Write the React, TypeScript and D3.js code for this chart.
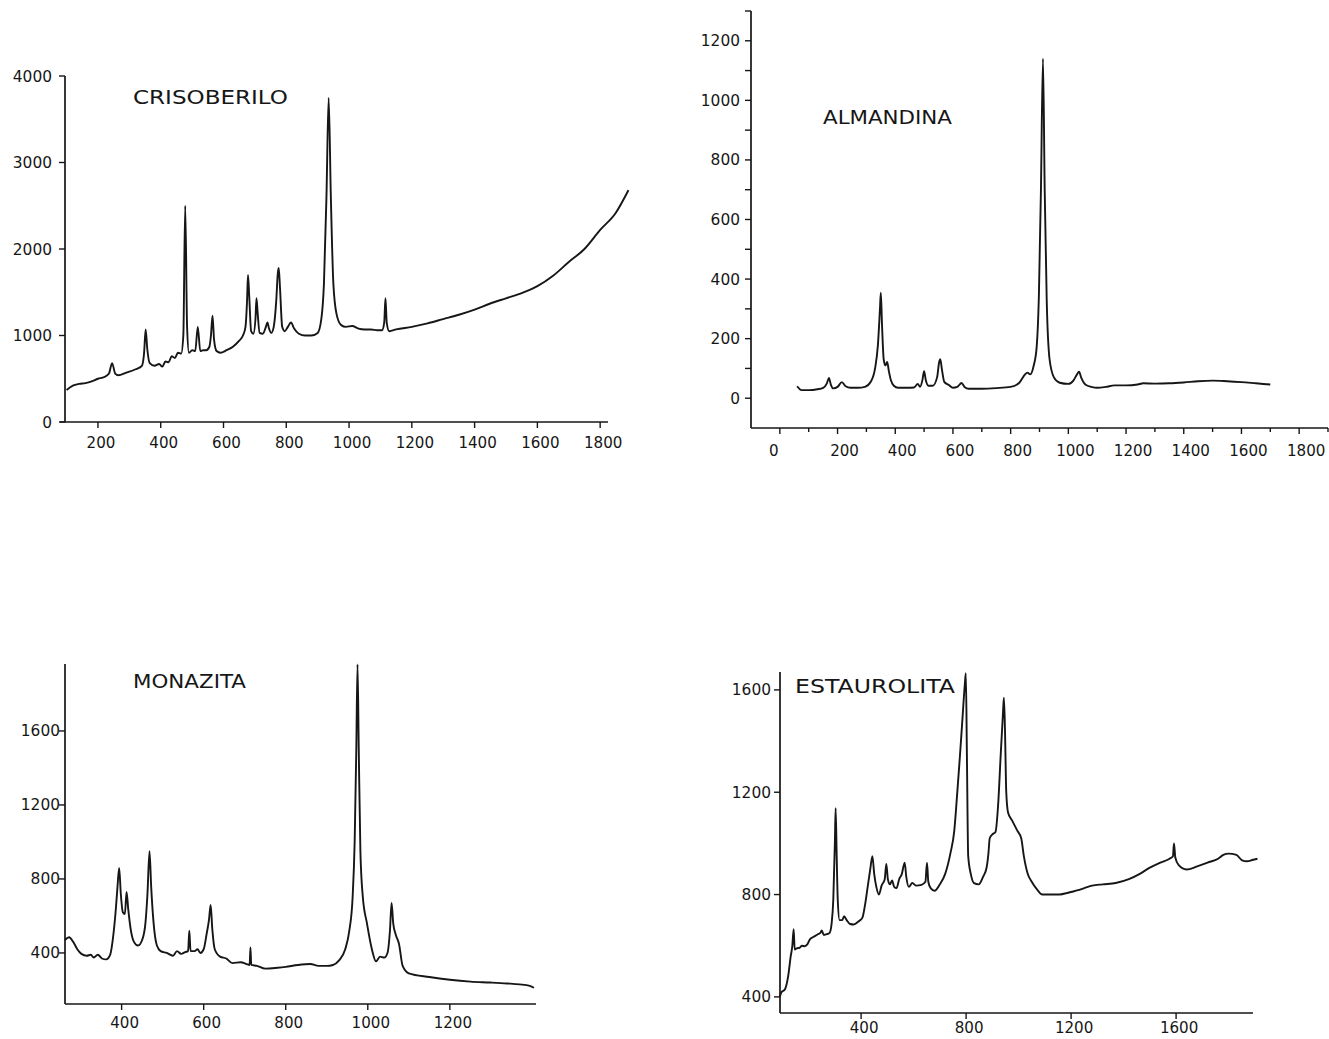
import React from "react";
import * as d3 from "d3";

// ---------- DATA ----------
const crisoberilo: [number, number][] = [
  [100,370],[120,420],[140,440],[160,450],[180,470],[200,500],[220,520],[235,560],[245,680],[255,560],[265,540],
  [290,570],[320,610],[340,650],[347,800],[352,1070],[357,850],[365,680],[380,650],[395,670],[405,640],[415,700],
  [425,690],[435,760],[445,740],[455,800],[465,790],[472,1000],[478,2500],[484,1100],[490,800],[500,830],[510,820],
  [518,1100],[526,820],[535,830],[545,830],[555,870],[560,1000],[565,1230],[570,950],[578,820],[590,800],[610,830],
  [630,870],[650,940],[662,1000],[670,1100],[675,1400],[678,1700],[682,1450],[688,1050],[695,1020],[702,1200],
  [705,1430],[709,1250],[715,1030],[725,1020],[735,1100],[740,1150],[745,1080],[752,1030],[760,1100],[768,1400],
  [773,1720],[776,1780],[780,1550],[787,1100],[795,1050],[805,1100],[815,1150],[825,1080],[840,1020],[860,1000],
  [880,1000],[900,1030],[912,1200],[920,1600],[928,2600],[935,3750],[942,2600],[950,1600],[960,1250],[975,1120],
  [990,1100],[1010,1110],[1030,1080],[1050,1070],[1070,1070],[1090,1060],[1105,1060],[1112,1150],[1116,1430],
  [1120,1150],[1128,1050],[1150,1070],[1200,1100],[1250,1140],[1300,1190],[1350,1240],[1400,1300],[1450,1370],
  [1500,1430],[1550,1490],[1600,1570],[1650,1690],[1700,1850],[1750,2000],[1800,2220],[1850,2420],[1890,2680],
];

const almandina: [number, number][] = [
  [60,40],[75,27],[100,27],[130,30],[150,35],[163,50],[170,68],[177,45],[185,33],[200,38],[215,54],[228,40],
  [245,35],[270,35],[295,38],[315,55],[330,100],[340,180],[347,300],[350,354],[354,250],[360,130],[366,110],
  [372,122],[378,90],[385,60],[395,42],[410,35],[440,35],[465,36],[478,48],[486,38],[494,60],[500,91],[506,60],
  [515,42],[530,42],[545,70],[552,120],[556,131],[562,95],[570,55],[585,45],[600,35],[615,38],[630,51],[640,38],
  [655,32],[700,32],[750,34],[800,38],[830,52],[850,80],[858,86],[868,80],[880,110],[890,170],[898,350],[905,700],
  [912,1140],[918,700],[925,330],[935,130],[950,70],[970,52],[1000,48],[1018,60],[1030,80],[1037,89],[1045,68],
  [1060,45],[1080,38],[1100,35],[1130,38],[1160,43],[1200,43],[1240,46],[1260,50],[1300,49],[1350,50],[1400,53],
  [1450,57],[1500,59],[1550,57],[1600,54],[1650,50],[1700,46],
];

const monazita: [number, number][] = [
  [262,470],[272,485],[282,460],[292,420],[302,395],[315,385],[325,390],[332,375],[342,390],[352,370],[362,365],
  [372,390],[380,500],[386,640],[390,760],[394,860],[398,720],[403,620],[408,610],[412,730],[416,640],[422,530],
  [430,460],[440,440],[450,470],[458,560],[463,720],[468,950],[472,760],[478,560],[486,440],[495,410],[510,400],
  [525,385],[535,410],[545,395],[555,405],[562,410],[565,520],[568,410],[578,410],[585,420],[592,400],[600,420],
  [607,500],[613,580],[617,660],[621,530],[627,420],[640,380],[655,370],[670,345],[690,350],[705,340],[712,335],
  [714,430],[716,335],[730,330],[750,315],[780,320],[800,325],[830,335],[860,340],[880,330],[900,330],[915,335],
  [930,360],[945,420],[955,520],[963,700],[968,1000],[972,1500],[975,1960],[978,1500],[982,950],[988,700],
  [998,560],[1010,420],[1020,355],[1030,380],[1040,375],[1048,400],[1054,520],[1058,670],[1062,560],[1068,500],
  [1076,450],[1085,330],[1100,290],[1150,270],[1200,255],[1250,245],[1300,240],[1340,235],[1370,230],[1395,222],
  [1405,212],
];

const estaurolita: [number, number][] = [
  [90,400],[96,417],[110,430],[122,480],[132,560],[138,600],[143,665],[147,585],[155,590],[165,592],[175,600],
  [185,598],[195,605],[205,625],[220,635],[235,645],[245,650],[250,660],[258,642],[270,645],[280,650],[288,690],
  [294,780],[300,1000],[303,1138],[307,950],[311,780],[318,700],[328,700],[335,715],[345,700],[358,685],[372,683],
  [390,695],[405,710],[415,760],[425,830],[435,900],[443,950],[450,880],[458,830],[468,800],[478,835],[490,860],
  [496,920],[502,860],[510,840],[518,855],[526,830],[535,825],[545,860],[555,880],[566,925],[572,870],[582,830],
  [595,845],[610,835],[630,838],[645,850],[651,925],[656,850],[665,825],[680,815],[700,840],[720,880],[740,960],
  [755,1050],[765,1180],[775,1320],[785,1470],[795,1620],[799,1665],[803,1350],[808,950],[818,880],[830,845],
  [848,840],[865,870],[878,905],[885,960],[890,1020],[900,1035],[912,1045],[922,1150],[932,1350],[940,1500],
  [944,1570],[948,1450],[953,1200],[960,1120],[975,1090],[995,1050],[1010,1020],[1020,950],[1035,880],[1050,850],
  [1070,820],[1090,800],[1150,800],[1200,810],[1250,825],[1280,835],[1320,840],[1370,845],[1420,860],[1460,880],
  [1500,905],[1540,925],[1575,940],[1588,950],[1592,1000],[1597,945],[1610,915],[1640,898],[1680,910],[1720,925],
  [1760,940],[1780,955],[1800,960],[1830,955],[1850,935],[1870,930],[1890,935],[1910,940],
];

const crisXTicks = [200, 400, 600, 800, 1000, 1200, 1400, 1600, 1800];
const crisYTicks = [0, 1000, 2000, 3000, 4000];
const almXTicks = d3.range(0, 1901, 100);
const almXLabels = [0, 200, 400, 600, 800, 1000, 1200, 1400, 1600, 1800];
const almYTicks = d3.range(0, 1301, 100);
const almYLabels = [0, 200, 400, 600, 800, 1000, 1200];
const monXTicks = [400, 600, 800, 1000, 1200];
const monYTicks = [400, 800, 1200, 1600];
const estXTicks = [400, 800, 1200, 1600];
const estYTicks = [400, 800, 1200, 1600];

const titles = ["CRISOBERILO", "ALMANDINA", "MONAZITA", "ESTAUROLITA"];

// ---------- COMPONENTS ----------
const INK = "#161616";
const FONT = "DejaVu Sans, sans-serif";

type PanelProps = {
  data: [number, number][];
  box: { left: number; right: number; top: number; bottom: number };
  xDomain: [number, number];
  yDomain: [number, number];
  xTicks: number[];
  xLabels: number[];
  yTicks: number[];
  yLabels: number[];
  title: string;
  titlePos: [number, number, number];
  xLabelDx?: number;
  xLabelDy: number;
  yLabelGap: number;
  axisExtendLeft?: number;
};

function Panel(p: PanelProps) {
  const x = d3.scaleLinear().domain(p.xDomain).range([p.box.left, p.box.right]);
  const y = d3.scaleLinear().domain(p.yDomain).range([p.box.bottom, p.box.top]);
  const line = d3
    .line<[number, number]>()
    .x((d) => x(d[0]))
    .y((d) => y(d[1]))
    .curve(d3.curveMonotoneX);
  const ext = p.axisExtendLeft ?? 0;
  const dx = p.xLabelDx ?? 3;
  return (
    <g>
      <line x1={p.box.left - ext} x2={p.box.right} y1={p.box.bottom} y2={p.box.bottom} stroke={INK} strokeWidth={1.7} />
      <line x1={p.box.left} x2={p.box.left} y1={p.box.top} y2={p.box.bottom} stroke={INK} strokeWidth={1.7} />
      {p.xTicks.map((t) => {
        const major = p.xLabels.includes(t);
        return (
          <line key={"xt" + t} x1={x(t)} x2={x(t)} y1={p.box.bottom} y2={p.box.bottom + (major ? 6 : 4)} stroke={INK} strokeWidth={1.4} />
        );
      })}
      {p.xLabels.map((t) => (
        <text key={"xl" + t} x={x(t) + (t === 0 ? -6 : dx)} y={p.box.bottom + p.xLabelDy} textAnchor="middle" fontFamily={FONT} fontSize={16} fill={INK}
          textLength={String(t).length * 9.6} lengthAdjust="spacingAndGlyphs">
          {t}
        </text>
      ))}
      {p.yTicks.map((t) => (
        <line key={"yt" + t} x1={p.box.left - 6} x2={p.box.left} y1={y(t)} y2={y(t)} stroke={INK} strokeWidth={1.4} />
      ))}
      {p.yLabels.map((t) => (
        <text key={"yl" + t} x={p.box.left - p.yLabelGap} y={y(t) + 5.5} textAnchor="end" fontFamily={FONT} fontSize={16} fill={INK}
          textLength={String(t).length * 9.8} lengthAdjust="spacingAndGlyphs">
          {t}
        </text>
      ))}
      <path d={line(p.data) || ""} fill="none" stroke={INK} strokeWidth={1.9} strokeLinejoin="round" />
      <text x={p.titlePos[0]} y={p.titlePos[1]} fontFamily={FONT} fontSize={20} fill={INK} textLength={p.titlePos[2]} lengthAdjust="spacingAndGlyphs">
        {p.title}
      </text>
    </g>
  );
}

export default function App() {
  return (
    <svg width={1329} height={1039} style={{ position: "absolute", left: 0, top: 0, background: "#fff" }}>
      <rect width={1329} height={1039} fill="#fff" />
      <Panel
        data={crisoberilo}
        box={{ left: 65, right: 608, top: 76, bottom: 422 }}
        xDomain={[95, 1825]}
        yDomain={[0, 4000]}
        xTicks={crisXTicks}
        xLabels={crisXTicks}
        yTicks={crisYTicks}
        yLabels={crisYTicks}
        title={titles[0]}
        titlePos={[133, 104, 155]}
        axisExtendLeft={5}
        xLabelDy={26}
        yLabelGap={13}
      />
      <Panel
        data={almandina}
        box={{ left: 751, right: 1328, top: 11, bottom: 428 }}
        xDomain={[-100, 1900]}
        yDomain={[-100, 1300]}
        xTicks={almXTicks}
        xLabels={almXLabels}
        yTicks={almYTicks}
        yLabels={almYLabels}
        title={titles[1]}
        titlePos={[823, 124, 129]}
        xLabelDx={7}
        xLabelDy={28}
        yLabelGap={11}
      />
      <Panel
        data={monazita}
        box={{ left: 65, right: 536, top: 664, bottom: 1004 }}
        xDomain={[262, 1410]}
        yDomain={[124, 1962]}
        xTicks={monXTicks}
        xLabels={monXTicks}
        yTicks={monYTicks}
        yLabels={monYTicks}
        title={titles[2]}
        titlePos={[133, 688, 113]}
        xLabelDy={24}
        yLabelGap={5}
      />
      <Panel
        data={estaurolita}
        box={{ left: 780, right: 1253, top: 672, bottom: 1013 }}
        xDomain={[91, 1893]}
        yDomain={[337, 1670]}
        xTicks={estXTicks}
        xLabels={estXTicks}
        yTicks={estYTicks}
        yLabels={estYTicks}
        title={titles[3]}
        titlePos={[795, 693, 160]}
        xLabelDy={20}
        yLabelGap={9}
      />
    </svg>
  );
}
